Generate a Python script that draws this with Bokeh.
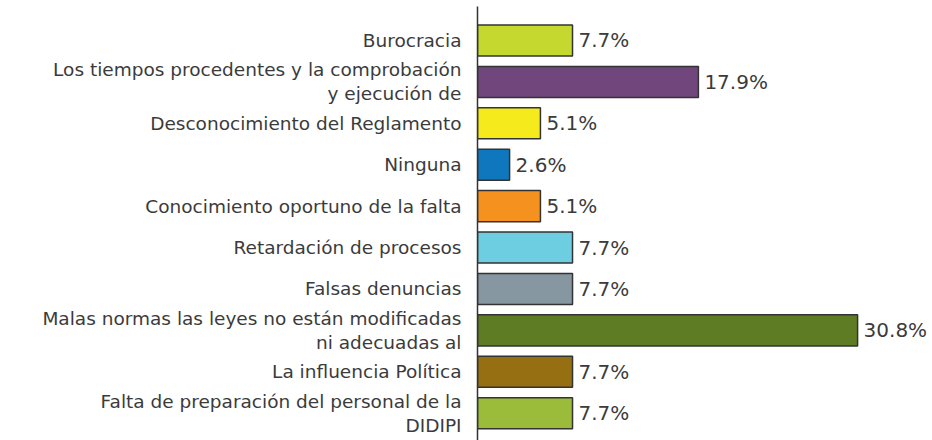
from bokeh.plotting import figure
from bokeh.models import ColumnDataSource, Range1d, FixedTicker
from bokeh.embed import file_html
from bokeh.resources import INLINE

categories = [
    "Burocracia",
    "Los tiempos procedentes y la comprobación\ny ejecución de",
    "Desconocimiento del Reglamento",
    "Ninguna",
    "Conocimiento oportuno de la falta",
    "Retardación de procesos",
    "Falsas denuncias",
    "Malas normas las leyes no están modificadas\nni adecuadas al",
    "La influencia Política",
    "Falta de preparación del personal de la\nDIDIPI",
]
values = [7.7, 17.9, 5.1, 2.6, 5.1, 7.7, 7.7, 30.8, 7.7, 7.7]
colors = ["#C4D82F", "#71467D", "#F5EA1C", "#0F77BD", "#F5911F",
          "#6DCEE2", "#8797A1", "#5E7C23", "#966F12", "#9BBC3B"]

pos = list(range(len(categories)))
src = ColumnDataSource(dict(
    y=pos, v=values, c=colors,
    lab=[f"{v:.1f}%" for v in values],
))

FONT = "DejaVu Sans"
TXT = "#3b3b3b"

p = figure(width=932, height=440, output_backend="svg", toolbar_location=None,
           x_range=Range1d(0, 36.87), y_range=Range1d(9.66, -0.821),
           min_border_left=477, min_border_right=0, min_border_top=6, min_border_bottom=0)
p.outline_line_color = None
p.grid.visible = False
p.xaxis.visible = False

p.hbar(y="y", right="v", left=0, height=0.75, fill_color="c",
       line_color="#333333", line_width=1.5, source=src)
p.text(x="v", y="y", text="lab", x_offset=6, text_align="left",
       text_baseline="middle", text_font_size="20px", text_color=TXT,
       text_font={"value": FONT}, source=src)

ax = p.yaxis[0]
ax.ticker = FixedTicker(ticks=pos)
ax.major_label_overrides = {i: c for i, c in enumerate(categories)}
ax.major_tick_line_color = None
ax.minor_tick_line_color = None
ax.axis_line_color = "#333333"
ax.axis_line_width = 1.5
ax.major_label_text_font = FONT
ax.major_label_text_font_size = "18.5px"
ax.major_label_text_line_height = 1.15
ax.major_label_text_color = TXT
ax.major_label_standoff = 10

open("out.html", "w").write(file_html(p, INLINE))
